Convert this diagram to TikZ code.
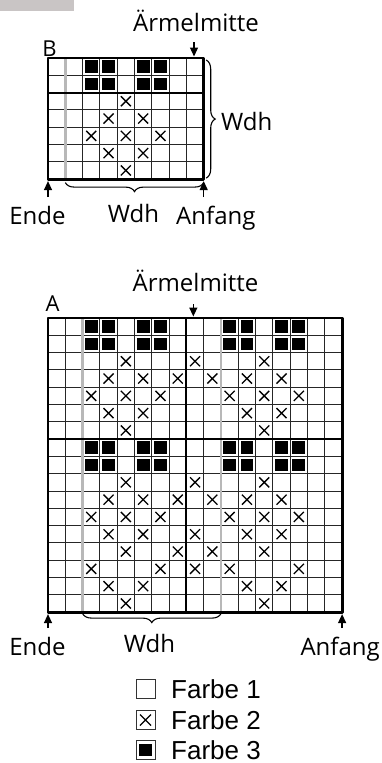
\documentclass[tikz,border=0pt]{standalone}
\usepackage{fontspec}
\setmainfont{Open Sans}
\newfontfamily\legfont{Liberation Sans}
\usetikzlibrary{decorations.pathreplacing,arrows.meta}
\definecolor{topbar}{HTML}{C9C5C5}
\definecolor{repline}{HTML}{B8B8B8}
\tikzset{
  gridline/.style={line width=0.9pt, draw=black!85},
  borderline/.style={line width=2.8pt, line join=round},
  divline/.style={line width=2pt},
  grayline/.style={line width=2.6pt, draw=repline},
  xmark/.style={line width=1.3pt},
  blk/.style={fill=black},
  arr/.style={line width=1.3pt, -{Triangle[length=9pt,width=8pt]}},
  bracestyle/.style={decorate, line width=1.1pt, decoration={brace, amplitude=9pt}},
  lbl/.style={inner sep=0pt, font=\fontsize{24}{28}\selectfont},
  chartlbl/.style={inner sep=0pt, font=\fontsize{22}{26}\selectfont},
  legtxt/.style={inner sep=0pt, anchor=base west, font=\legfont\fontsize{26}{30}\selectfont},
  legbox/.style={line width=0.9pt, draw=black!80},
}
\begin{document}
\begin{tikzpicture}[x=1pt,y=-1pt]
\useasboundingbox (0,0) rectangle (381,763);
\fill[topbar] (0,0) rectangle (74,11);

% ---------------- Chart B ----------------
\begin{scope}[xshift=48pt, yshift=-58pt, x=17.3pt, y=-17.3pt]
  \foreach \c in {1,...,8} \draw[gridline] (\c,0) -- (\c,7);
  \foreach \r in {1,...,6} \draw[gridline] (0,\r) -- (9,\r);
  \foreach \r in {0,1} \foreach \c in {2,3,5,6}
    \fill[blk] (\c+0.13,\r+0.13) rectangle (\c+0.87,\r+0.87);
  \foreach \r/\cs in {2/{4}, 3/{3,5}, 4/{2,4,6}, 5/{3,5}, 6/{4}}
    \foreach \c in \cs
      \draw[xmark] (\c+0.5,\r+0.5) +(-0.29,-0.29) -- +(0.29,0.29) +(-0.29,0.29) -- +(0.29,-0.29);
  \draw[grayline] (1,0) -- (1,7);
  \draw[divline] (0,2) -- (9,2);
  \draw[borderline] (0,0) rectangle (9,7);
  \coordinate (Btl) at (0,0);
  \coordinate (Bbl) at (0,7);
  \coordinate (Bbr) at (9,7);
  \coordinate (Btr) at (9,0);
  \coordinate (Bmid) at (8.44,0);
  \coordinate (Brep) at (1,7);
\end{scope}
\node[lbl, anchor=base] (Bmit) at (196,31.7) {Ärmelmitte};
\node[chartlbl, anchor=base] (Blab) at (49.5,56) {B};
\node[lbl, anchor=base] (Bende) at (37.5,224) {Ende};
\node[lbl, anchor=base] (Bwdh) at (133.5,222) {Wdh};
\node[lbl, anchor=base west] (Banf) at (176,224) {Anfang};
\node[lbl, anchor=west] (Bwdhr) at (221,121) {Wdh};
\draw[arr] ([yshift=16pt]Bmid) -- ([yshift=1.5pt]Bmid);
\draw[arr] ([yshift=-18pt]Bbl) -- ([yshift=-2pt]Bbl);
\draw[arr] ([yshift=-18pt]Bbr) -- ([yshift=-2pt]Bbr);
\draw[bracestyle, decoration={mirror}] ([yshift=-3.5pt]Brep) -- ([yshift=-3.5pt]Bbr);
\draw[bracestyle] ([xshift=2.5pt,yshift=-2pt]Btr) -- ([xshift=2.5pt,yshift=1pt]Bbr);

% ---------------- Chart A ----------------
\begin{scope}[xshift=48pt, yshift=-318pt, x=17.3pt, y=-17.3pt]
  \foreach \c in {1,...,16} \draw[gridline] (\c,0) -- (\c,17);
  \foreach \r in {1,...,16} \draw[gridline] (0,\r) -- (17,\r);
  \foreach \r in {0,1,7,8} \foreach \c in {2,3,5,6,10,11,13,14}
    \fill[blk] (\c+0.13,\r+0.13) rectangle (\c+0.87,\r+0.87);
  \foreach \r/\cs in {2/{4,8,12}, 3/{3,5,7,9,11,13}, 4/{2,4,6,10,12,14},
                      5/{3,5,11,13}, 6/{4,12},
                      9/{4,8,12}, 10/{3,5,7,9,11,13}, 11/{2,4,6,10,12,14},
                      12/{3,5,8,11,13}, 13/{4,7,9,12}, 14/{2,6,8,10,14},
                      15/{3,5,11,13}, 16/{4,12}}
    \foreach \c in \cs
      \draw[xmark] (\c+0.5,\r+0.5) +(-0.29,-0.29) -- +(0.29,0.29) +(-0.29,0.29) -- +(0.29,-0.29);
  \draw[grayline] (2,0) -- (2,17);
  \draw[grayline] (10,0) -- (10,17);
  \draw[divline] (0,7) -- (17,7);
  \draw[divline] (8,0) -- (8,17);
  \draw[borderline] (0,0) rectangle (17,17);
  \coordinate (Abl) at (0,17);
  \coordinate (Abr) at (17,17);
  \coordinate (Amid) at (8.4,0);
  \coordinate (ArepL) at (2,17);
  \coordinate (ArepR) at (10,17);
\end{scope}
\node[lbl, anchor=base] (Amit) at (195.5,291.7) {Ärmelmitte};
\node[chartlbl, anchor=base] (Alab) at (52.5,311) {A};
\node[lbl, anchor=base] (Aende) at (37.5,655) {Ende};
\node[lbl, anchor=base] (Awdh) at (149.5,652) {Wdh};
\node[lbl, anchor=base east] (Aanf) at (380,655) {Anfang};
\draw[arr] ([yshift=14pt]Amid) -- ([yshift=1.5pt]Amid);
\draw[arr] ([yshift=-16pt]Abl) -- ([yshift=-2pt]Abl);
\draw[arr] ([yshift=-16pt]Abr) -- ([yshift=-2pt]Abr);
\draw[bracestyle, decoration={mirror}] ([yshift=-1.5pt]ArepL) -- ([yshift=-1.5pt]ArepR);

% ---------------- Legend ----------------
\node[legbox, minimum size=19pt, inner sep=0pt] (L1) at (145.5,689) {};
\node[legbox, minimum size=19pt, inner sep=0pt] (L2) at (145.5,720) {};
\node[legbox, minimum size=19pt, inner sep=0pt] (L3) at (145.5,750) {};
\draw[xmark] (L2.center) +(-5.5,-5.5) -- +(5.5,5.5) +(-5.5,5.5) -- +(5.5,-5.5);
\fill[blk] ([xshift=3.5pt,yshift=-3.5pt]L3.north west) rectangle ([xshift=-3.5pt,yshift=3.5pt]L3.south east);
\node[legtxt] (T1) at (171,698) {Farbe 1};
\node[legtxt] (T2) at (171,729) {Farbe 2};
\node[legtxt] (T3) at (171,759) {Farbe 3};
\end{tikzpicture}
\end{document}
